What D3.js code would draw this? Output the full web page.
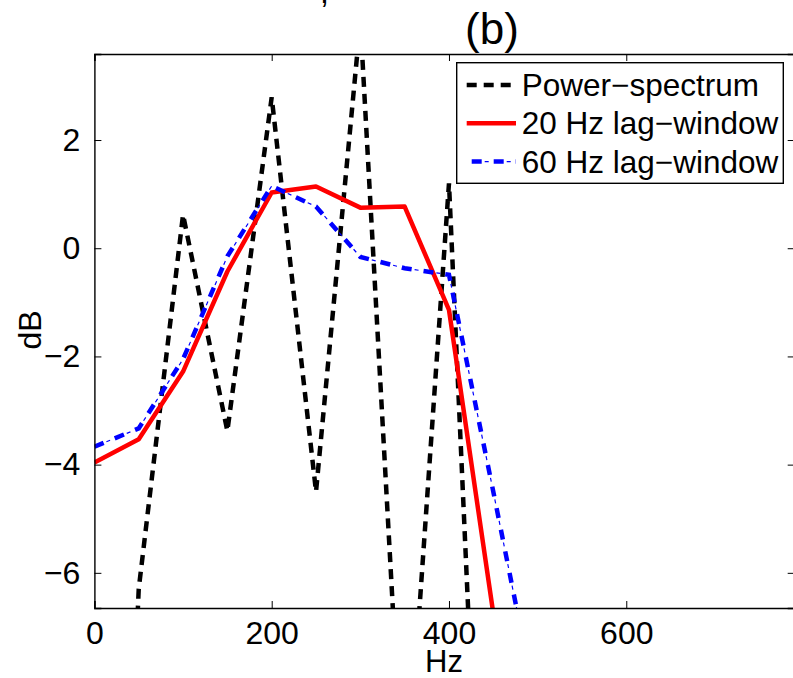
<!DOCTYPE html>
<html>
<head>
<meta charset="utf-8">
<script src="https://cdn.jsdelivr.net/npm/d3@7"></script>
<style>
  body { margin: 0; background: #fff; }
  text { font-family: "Liberation Sans", Arial, Helvetica, sans-serif; fill: #000; }
</style>
</head>
<body>
<div id="chart"></div>
<script>
// Data (frequency in Hz, level in dB)
let freqs = [0, 50, 100, 150, 200, 250, 300, 350, 400, 450, 500];
let powerSpectrum = [-25, -6.3, 0.62, -3.38, 2.79, -4.5, 4.2, -10.6, 1.2, -17, -22];
let lag20 = [-3.96, -3.53, -2.28, -0.43, 1.03, 1.14, 0.75, 0.77, -1.14, -6.75, -12];
let lag60 = [-3.67, -3.33, -2.05, -0.15, 1.15, 0.77, -0.16, -0.37, -0.49, -4.5, -8.6];
let seriesNames = ["Power\u2212spectrum", "20 Hz lag\u2212window", "60 Hz lag\u2212window"];
let xTicks = [0, 200, 400, 600];
let yTicks = [-6, -4, -2, 0, 2];

// SVG dimensions
let svgWidth = 793;
let svgHeight = 678;
let margin = { top: 54, left: 94.4 };
let chartWidth = 700.3;
let chartHeight = 554;

let svg = d3.select("#chart")
            .append("svg")
            .attr("width", svgWidth)
            .attr("height", svgHeight);

let chartGroup = svg.append("g")
                    .attr("transform", `translate(${margin.left}, ${margin.top})`);

// scales
let xScale = d3.scaleLinear()
    .domain([0, 790])
    .range([0, chartWidth]);
let yScale = d3.scaleLinear()
    .domain([-6.65, 3.59])
    .range([chartHeight, 0]);

// clip lines to the axes box
svg.append("defs").append("clipPath")
    .attr("id", "clip")
    .append("rect")
    .attr("width", chartWidth)
    .attr("height", chartHeight);

let line = d3.line()
    .x((d, i) => xScale(freqs[i]))
    .y(d => yScale(d));

let lines = chartGroup.append("g").attr("clip-path", "url(#clip)");

lines.append("path")
    .datum(powerSpectrum)
    .attr("d", line)
    .attr("fill", "none")
    .attr("stroke", "#000")
    .attr("stroke-width", 4.5)
    .attr("stroke-dasharray", "10,7");

lines.append("path")
    .datum(lag20)
    .attr("d", line)
    .attr("fill", "none")
    .attr("stroke", "#ff0000")
    .attr("stroke-width", 4.5)
    .attr("stroke-linejoin", "round");

// dash-dot: thick dashes + thin dots
lines.append("path")
    .datum(lag60)
    .attr("d", line)
    .attr("fill", "none")
    .attr("stroke", "#0000ff")
    .attr("stroke-width", 4.5)
    .attr("stroke-dasharray", "10,12");
lines.append("path")
    .datum(lag60)
    .attr("d", line)
    .attr("fill", "none")
    .attr("stroke", "#0000ff")
    .attr("stroke-width", 1.2)
    .attr("stroke-dasharray", "0,13,4,5");

// axes (ticks pointing inwards, MATLAB style)
let bottomAxis = d3.axisBottom(xScale).tickValues(xTicks).tickSize(-7).tickPadding(13);
let topAxis = d3.axisTop(xScale).tickValues(xTicks).tickSize(-7).tickFormat("");
let leftAxis = d3.axisLeft(yScale).tickValues(yTicks).tickSize(-7).tickPadding(14);
let rightAxis = d3.axisRight(yScale).tickValues(yTicks).tickSize(-7).tickFormat("");

function styleAxis(g) {
    g.select(".domain").attr("stroke", "#000").attr("stroke-width", 1.4);
    g.selectAll(".tick line").attr("stroke", "#000").attr("stroke-width", 1);
    g.selectAll("text").style("font-size", "32px").attr("fill", "#000");
}

chartGroup.append("g")
    .attr("transform", `translate(0, ${chartHeight})`)
    .call(bottomAxis).call(styleAxis);
chartGroup.append("g")
    .call(topAxis).call(styleAxis);
chartGroup.append("g")
    .call(leftAxis).call(styleAxis);
chartGroup.append("g")
    .attr("transform", `translate(${chartWidth}, 0)`)
    .call(rightAxis).call(styleAxis);

// labels
svg.append("text")
    .attr("x", 492)
    .attr("y", 44)
    .attr("text-anchor", "middle")
    .style("font-size", "44px")
    .text("(b)");

svg.append("text")
    .attr("x", 320)
    .attr("y", 3)
    .style("font-size", "32px")
    .text(",");

svg.append("text")
    .attr("x", 444)
    .attr("y", 672)
    .attr("text-anchor", "middle")
    .style("font-size", "31px")
    .text("Hz");

svg.append("text")
    .attr("transform", "translate(41, 330) rotate(-90)")
    .attr("text-anchor", "middle")
    .style("font-size", "32px")
    .text("dB");

// legend
let legend = svg.append("g").attr("transform", "translate(456.7, 62.7)");
legend.append("rect")
    .attr("width", 326.6)
    .attr("height", 120.6)
    .attr("fill", "#fff")
    .attr("stroke", "#000")
    .attr("stroke-width", 1.4);

let legendStyles = [
    { color: "#000", dash: "10,7" },
    { color: "#ff0000", dash: null },
    { color: "#0000ff", dash: "10,12" }
];

seriesNames.forEach(function(name, i) {
    let y = 22.3 + i * 38.3;
    let s = legendStyles[i];
    let l = legend.append("line")
        .attr("x1", 10).attr("x2", 59.3)
        .attr("y1", y).attr("y2", y)
        .attr("stroke", s.color)
        .attr("stroke-width", 4.5);
    if (s.dash) l.attr("stroke-dasharray", s.dash);
    if (i == 2) {
        l.attr("stroke-dashoffset", -5);
        legend.append("line")
            .attr("x1", 10).attr("x2", 59.3)
            .attr("y1", y).attr("y2", y)
            .attr("stroke", s.color)
            .attr("stroke-width", 1.2)
            .attr("stroke-dasharray", "0,13,4,5")
            .attr("stroke-dashoffset", -5);
    }
    legend.append("text")
        .attr("x", 65)
        .attr("y", y + 11)
        .style("font-size", "31.5px")
        .text(name);
});
</script>
</body>
</html>
